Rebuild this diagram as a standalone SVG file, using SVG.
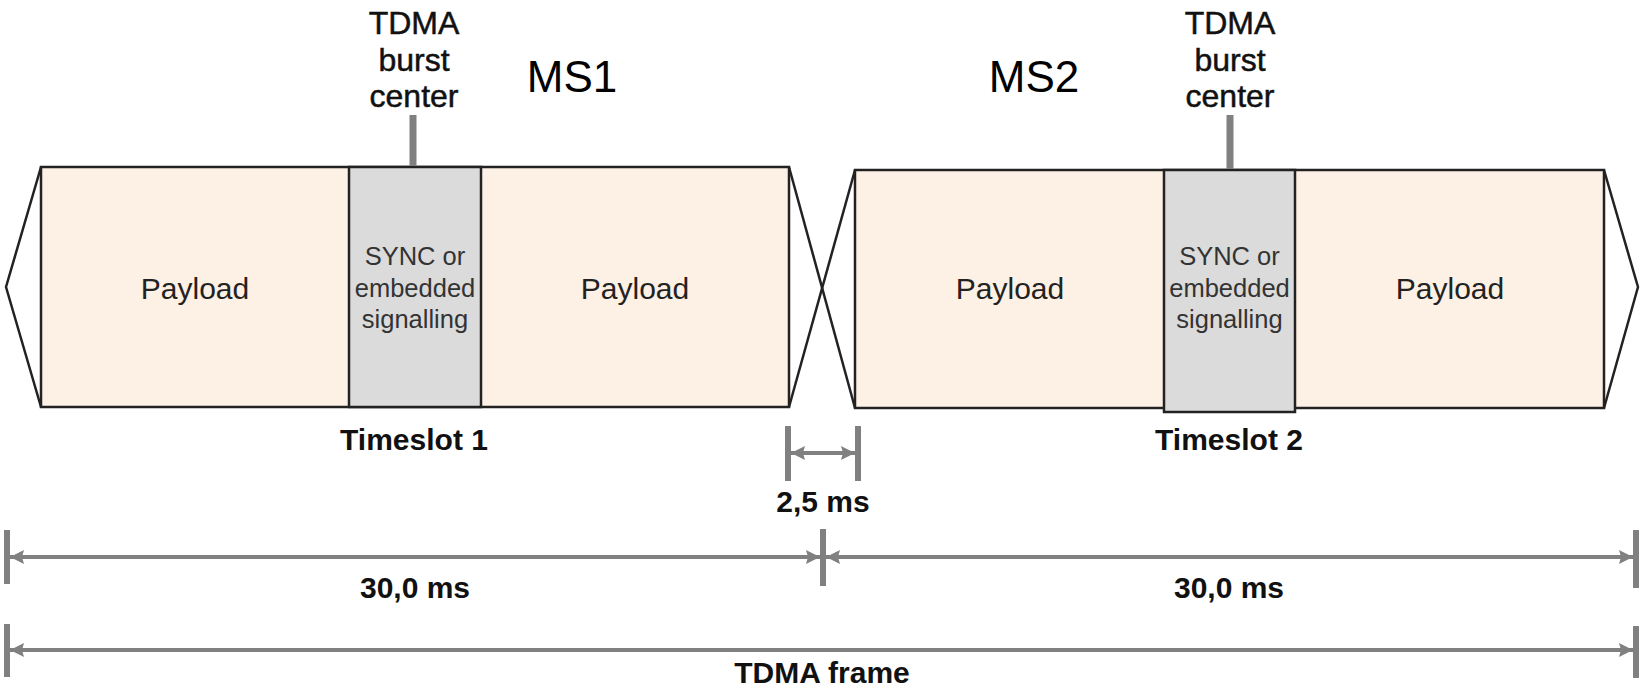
<svg xmlns="http://www.w3.org/2000/svg" width="1641" height="693" viewBox="0 0 1641 693">
  <defs>
    <marker id="arr" viewBox="0 0 14 14" refX="14" refY="7" markerWidth="14" markerHeight="14" markerUnits="userSpaceOnUse" orient="auto-start-reverse">
      <path d="M0,0 L14,7 L0,14 L2,7 z" fill="#808080"/>
    </marker>
  </defs>
  <style>
    .payload { fill: #FDF0E4; stroke: #222; stroke-width: 2.5; }
    .sync { fill: #DBDBDB; stroke: #222; stroke-width: 2.5; }
    .edge { fill: none; stroke: #222; stroke-width: 2.5; stroke-linejoin: round; }
    .t { font-family: "Liberation Sans", Arial, sans-serif; text-anchor: middle; }
    .pl { font-size: 30px; fill: #222; }
    .sy { font-size: 25.5px; fill: #333; }
    .burst { font-size: 32px; fill: #111; stroke: #111; stroke-width: 0.5; }
    .ms { font-size: 44px; fill: #000; }
    .b { font-size: 30px; font-weight: bold; fill: #111; }
    .tick { stroke: #808080; stroke-width: 6; }
    .cen { stroke: #808080; stroke-width: 7; }
    .dim { stroke: #808080; stroke-width: 4; fill: none; marker-start: url(#arr); marker-end: url(#arr); }
  </style>

  <g id="ms1-label"><text class="t ms" x="572" y="92">MS1</text></g>
  <g id="ms2-label"><text class="t ms" x="1034" y="92">MS2</text></g>

  <g id="timeslot1">
    <rect class="payload" x="41" y="167" width="748" height="240"/>
    <rect class="sync" x="349" y="167" width="132" height="240"/>
    <polyline class="edge" points="41,167 6,287 41,407"/>
    <text class="t pl" x="195" y="299">Payload</text>
    <text class="t pl" x="635" y="299">Payload</text>
    <text class="t sy" x="415" y="265">SYNC or</text>
    <text class="t sy" x="415" y="297">embedded</text>
    <text class="t sy" x="415" y="328">signalling</text>
    <text class="t b" x="414" y="450">Timeslot 1</text>
  </g>

  <g id="timeslot2">
    <rect class="payload" x="855" y="170" width="749" height="238"/>
    <rect class="sync" x="1164" y="170" width="131" height="242"/>
    <polyline class="edge" points="1604,170 1638,287 1604,408"/>
    <text class="t pl" x="1010" y="299">Payload</text>
    <text class="t pl" x="1450" y="299">Payload</text>
    <text class="t sy" x="1229.5" y="265">SYNC or</text>
    <text class="t sy" x="1229.5" y="297">embedded</text>
    <text class="t sy" x="1229.5" y="328">signalling</text>
    <text class="t b" x="1229" y="450">Timeslot 2</text>
  </g>

  <g id="guard">
    <line class="edge" x1="789" y1="167" x2="855" y2="408"/>
    <line class="edge" x1="855" y1="170" x2="789" y2="407"/>
  </g>

  <g id="burst1">
    <text class="t burst" x="414" y="34">TDMA</text>
    <text class="t burst" x="414" y="70.5">burst</text>
    <text class="t burst" x="414" y="107">center</text>
  </g>
  <g id="burst2">
    <text class="t burst" x="1230" y="34">TDMA</text>
    <text class="t burst" x="1230" y="70.5">burst</text>
    <text class="t burst" x="1230" y="107">center</text>
  </g>

  <g id="connectors">
    <line class="cen" x1="413" y1="115" x2="413" y2="166"/>
    <line class="cen" x1="1230" y1="115" x2="1230" y2="169"/>

    <line class="tick" x1="788" y1="426" x2="788" y2="481"/>
    <line class="tick" x1="858" y1="426" x2="858" y2="481"/>
    <line class="dim" x1="791" y1="453" x2="855" y2="453"/>

    <line class="tick" x1="7" y1="530" x2="7" y2="584"/>
    <line class="tick" x1="823" y1="529" x2="823" y2="586"/>
    <line class="tick" x1="1636" y1="530" x2="1636" y2="588"/>
    <line class="dim" x1="10" y1="557" x2="820" y2="557"/>
    <line class="dim" x1="826" y1="557" x2="1633" y2="557"/>

    <line class="tick" x1="7" y1="624" x2="7" y2="677"/>
    <line class="tick" x1="1636" y1="626" x2="1636" y2="678"/>
    <line class="dim" x1="10" y1="650" x2="1633" y2="650"/>
  </g>

  <g id="dim-labels">
    <text class="t b" x="823" y="512">2,5 ms</text>
    <text class="t b" x="415" y="598">30,0 ms</text>
    <text class="t b" x="1229" y="598">30,0 ms</text>
    <text class="t b" x="822" y="683">TDMA frame</text>
  </g>
</svg>
